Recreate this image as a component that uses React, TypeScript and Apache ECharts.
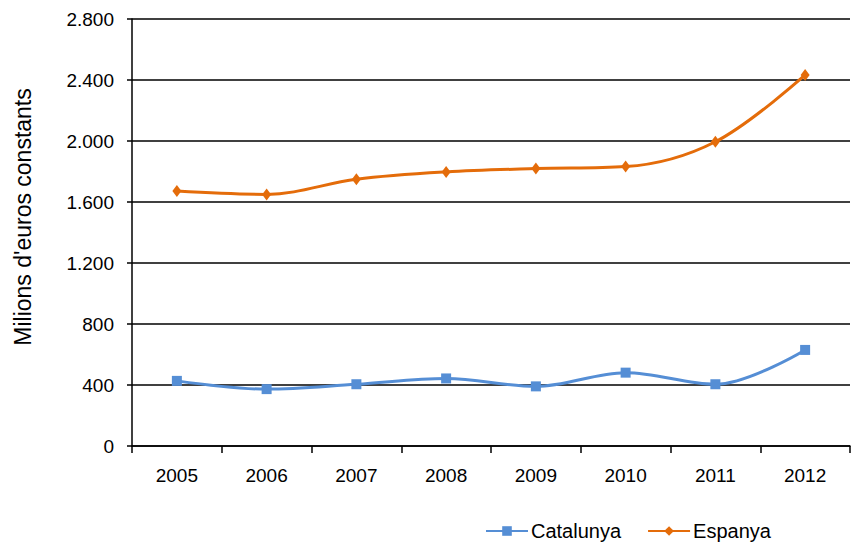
import React, { useEffect, useRef } from "react";
import * as echarts from "echarts";

const years = ["2005", "2006", "2007", "2008", "2009", "2010", "2011", "2012"];
const catalunya = [427, 373, 405, 443, 391, 481, 405, 630];
const espanya = [1672, 1650, 1749, 1797, 1819, 1832, 1995, 2433];
const yTicks = [0, 400, 800, 1200, 1600, 2000, 2400, 2800];
const yTitle = "Milions d'euros constants";

const fmt = (v: number) => String(v).replace(/\B(?=(\d{3})+(?!\d))/g, ".");

export default function App() {
  const ref = useRef<HTMLDivElement>(null);
  useEffect(() => {
    if (!ref.current) return;
    const chart = echarts.init(ref.current, undefined, { renderer: "svg" });
    const font = "'Liberation Sans', Arial, sans-serif";
    chart.setOption({
      animation: false,
      textStyle: { fontFamily: font },
      grid: { left: 132, right: 7, top: 19, bottom: 97, containLabel: false },
      graphic: [
        {
          type: "text",
          x: 23,
          y: 217,
          rotation: Math.PI / 2,
          style: {
            text: yTitle,
            fontSize: 23,
            fontFamily: font,
            fill: "#000",
            align: "center",
            verticalAlign: "middle",
          },
        },
      ],
      legend: {
        bottom: -3,
        left: 480,
        itemWidth: 42,
        itemHeight: 12,
        itemGap: 26,
        textStyle: { fontSize: 20, color: "#000", fontFamily: font, padding: [0, 0, 0, -2] },
        data: ["Catalunya", "Espanya"],
      },
      xAxis: {
        type: "category",
        data: years,
        boundaryGap: true,
        axisLine: { lineStyle: { color: "#000", width: 1.5 } },
        axisTick: { show: true, length: 7, lineStyle: { color: "#000", width: 1.5 } },
        axisLabel: { fontSize: 19, color: "#000", margin: 20, fontFamily: font },
      },
      yAxis: {
        type: "value",
        min: 0,
        max: 2800,
        interval: 400,
        axisLine: { show: true, lineStyle: { color: "#000", width: 1.5 } },
        axisTick: { show: true, length: 5, lineStyle: { color: "#000", width: 1.5 } },
        axisLabel: {
          fontSize: 19,
          color: "#000",
          margin: 18,
          fontFamily: font,
          formatter: (v: number) => (yTicks.includes(v) ? fmt(v) : ""),
        },
        splitLine: { show: true, lineStyle: { color: "#000", width: 1.5 } },
      },
      series: [
        {
          name: "Catalunya",
          type: "line",
          data: catalunya,
          smooth: 0.35,
          symbol: "rect",
          symbolSize: 10,
          lineStyle: { color: "#558ED5", width: 3 },
          itemStyle: { color: "#558ED5" },
          z: 3,
        },
        {
          name: "Espanya",
          type: "line",
          data: espanya,
          smooth: 0.35,
          symbol: "diamond",
          symbolSize: [9, 12],
          lineStyle: { color: "#E46C0A", width: 3 },
          itemStyle: { color: "#E46C0A" },
          z: 3,
        },
      ],
    });
    return () => chart.dispose();
  }, []);
  return <div ref={ref} style={{ width: 857, height: 543, position: "absolute", left: 0, top: 0 }} />;
}
